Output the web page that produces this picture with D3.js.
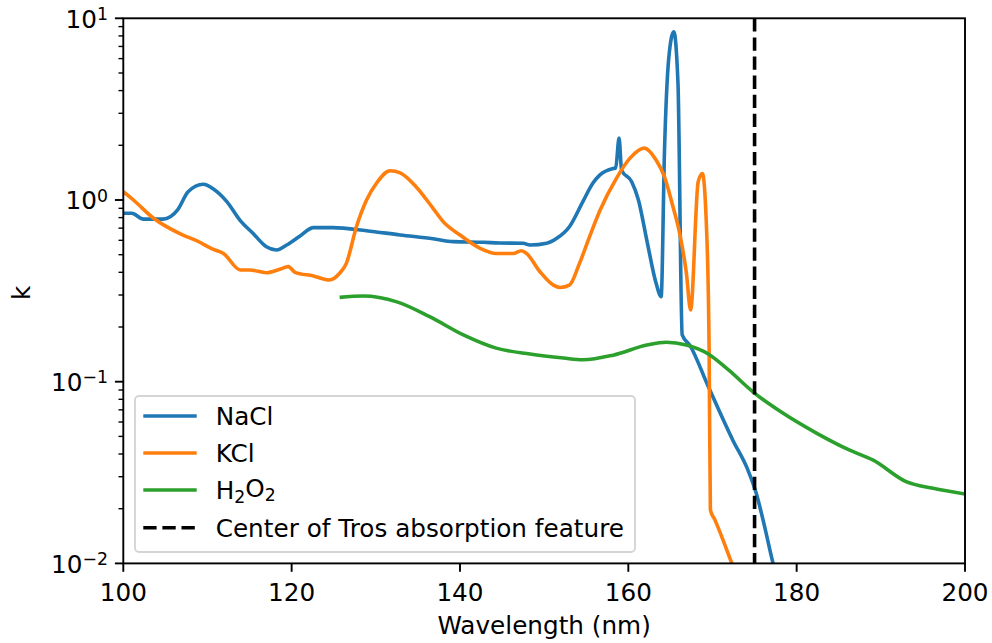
<!DOCTYPE html>
<html>
<head>
<meta charset="utf-8">
<script src="https://cdn.jsdelivr.net/npm/d3@7"></script>
<style>
  body { margin: 0; background: #fff; }
  svg text { font-family: "DejaVu Sans", sans-serif; fill: #000; }
</style>
</head>
<body>
<div id="chart"></div>
<script>
// valores
let naclWl = [100, 101, 102.4, 104.7, 106.5, 107.7, 109.5, 110.7, 112.3, 113.9, 115.4, 117.0, 118.2, 119.4, 121.0, 122.6, 124.9, 128.9, 132.9, 136.8, 139.2, 142.8, 144.7, 147.5, 148.3, 150.3, 151.5, 153.0, 154.6, 155.8, 156.6, 158.2, 158.5, 158.9, 159.2, 160.4, 161.2, 162.2, 163.3, 163.9, 164.3, 164.8, 165.4, 165.9, 166.4, 167.3, 169.5, 172.4, 174.2, 175.2, 176.2, 177.2, 178.0];
let naclK = [0.845, 0.845, 0.785, 0.785, 0.889, 1.11, 1.22, 1.15, 0.98, 0.77, 0.656, 0.553, 0.531, 0.565, 0.634, 0.705, 0.705, 0.678, 0.642, 0.612, 0.590, 0.585, 0.58, 0.578, 0.565, 0.578, 0.615, 0.713, 0.98, 1.24, 1.37, 1.49, 1.5, 2.19, 1.46, 1.26, 1.0, 0.60, 0.348, 0.294, 1.88, 6.0, 8.44, 4.39, 0.181, 0.159, 0.094, 0.0478, 0.0327, 0.0243, 0.0159, 0.0100, 0.0075];

let kclWl = [100, 101.2, 103.6, 106.9, 108.7, 110.7, 111.9, 113.9, 115.0, 117.0, 118.6, 119.6, 120.4, 122.6, 124.5, 125.7, 126.5, 127.7, 128.9, 130.1, 131.7, 132.9, 134.8, 136.8, 138.0, 140.0, 142.4, 144.3, 146.3, 147.3, 147.9, 149.5, 151.1, 151.9, 153.0, 154.2, 155.4, 156.6, 158.6, 160.2, 161.9, 163.3, 164.3, 165.3, 166.1, 166.9, 167.4, 168.3, 168.8, 169.3, 169.6, 169.75, 170.3, 172.3, 173.0];
let kclK = [1.11, 1.0, 0.793, 0.647, 0.597, 0.535, 0.508, 0.412, 0.412, 0.398, 0.416, 0.43, 0.40, 0.382, 0.363, 0.395, 0.448, 0.713, 1.0, 1.24, 1.45, 1.41, 1.18, 0.9, 0.76, 0.642, 0.542, 0.508, 0.508, 0.526, 0.508, 0.403, 0.34, 0.33, 0.34, 0.448, 0.628, 0.87, 1.32, 1.70, 1.93, 1.66, 1.34, 0.92, 0.656, 0.395, 0.248, 1.26, 1.40, 0.684, 0.149, 0.0197, 0.0173, 0.0100, 0.0082];

let h2o2Wl = [125.7, 128.5, 132.5, 136.4, 140.4, 144.3, 148.3, 152.3, 154.6, 158.2, 162.2, 164.5, 166.9, 169.5, 171.9, 174.8, 178.4, 182.4, 186.3, 189.1, 193.0, 196.2, 200];
let h2o2K = [0.291, 0.296, 0.275, 0.228, 0.181, 0.153, 0.142, 0.135, 0.132, 0.140, 0.159, 0.165, 0.159, 0.142, 0.116, 0.088, 0.067, 0.052, 0.042, 0.037, 0.0282, 0.0259, 0.0241];

let trosCenter = 175;

let xTicks = [100, 120, 140, 160, 180, 200];
let yDecades = [-2, -1, 0, 1];

let width = 992;
let height = 643;
let margin = { top: 18.3, right: 27, bottom: 79.6, left: 123.3 };
let innerW = width - margin.left - margin.right;
let innerH = height - margin.top - margin.bottom;
let fontSize = 24.7;

let svg = d3.select('#chart').append('svg')
    .attr('width', width)
    .attr('height', height);

let x = d3.scaleLinear().domain([100, 200]).range([0, innerW]);
let y = d3.scaleLog().domain([0.01, 10]).range([innerH, 0]);

let g = svg.append('g')
    .attr('transform', 'translate(' + margin.left + ',' + margin.top + ')');

g.append('clipPath').attr('id', 'clip')
    .append('rect').attr('width', innerW).attr('height', innerH);

let series = [
    { name: 'NaCl', wl: naclWl, k: naclK, color: '#1f77b4' },
    { name: 'KCl', wl: kclWl, k: kclK, color: '#ff7f0e' },
    { name: 'H2O2', wl: h2o2Wl, k: h2o2K, color: '#2ca02c' }
];

let line = d3.line()
    .x(d => x(d[0]))
    .y(d => y(d[1]))
    .curve(d3.curveMonotoneX);

let plot = g.append('g').attr('clip-path', 'url(#clip)');

series.forEach(s => {
    plot.append('path')
        .datum(s.wl.map((w, i) => [w, s.k[i]]))
        .attr('fill', 'none')
        .attr('stroke', s.color)
        .attr('stroke-width', 3.6)
        .attr('stroke-linejoin', 'round')
        .attr('d', line);
});

// linea vertical discontinua
plot.append('line')
    .attr('x1', x(trosCenter)).attr('x2', x(trosCenter))
    .attr('y1', 0).attr('y2', innerH)
    .attr('stroke', '#000')
    .attr('stroke-width', 3.6)
    .attr('stroke-dasharray', '13.3,5.8');

// ejes
let axisColor = '#000';
let tickMajor = 8.4;
let tickMinor = 4.8;

let xAxis = g.append('g').attr('transform', 'translate(0,' + innerH + ')');
xTicks.forEach(t => {
    xAxis.append('line')
        .attr('x1', x(t)).attr('x2', x(t))
        .attr('y1', 0).attr('y2', tickMajor)
        .attr('stroke', axisColor).attr('stroke-width', 1.9);
    xAxis.append('text')
        .attr('x', x(t)).attr('y', 37.5)
        .attr('text-anchor', 'middle')
        .style('font-size', fontSize + 'px')
        .text(t);
});

let yAxis = g.append('g');
yDecades.forEach(p => {
    let v = Math.pow(10, p);
    yAxis.append('line')
        .attr('x1', -tickMajor).attr('x2', 0)
        .attr('y1', y(v)).attr('y2', y(v))
        .attr('stroke', axisColor).attr('stroke-width', 1.9);
    let t = yAxis.append('text')
        .attr('x', -tickMajor - 7)
        .attr('y', y(v) + 9.5)
        .attr('text-anchor', 'end')
        .style('font-size', fontSize + 'px');
    t.append('tspan').text('10');
    t.append('tspan')
        .attr('dy', '-0.45em')
        .style('font-size', '70%')
        .text(p < 0 ? '\u2212' + (-p) : String(p));
    if (p < 1) {
        for (let m = 2; m <= 9; m++) {
            let mv = m * v;
            yAxis.append('line')
                .attr('x1', -tickMinor).attr('x2', 0)
                .attr('y1', y(mv)).attr('y2', y(mv))
                .attr('stroke', axisColor).attr('stroke-width', 1.4);
        }
    }
});

// marco
g.append('rect')
    .attr('width', innerW).attr('height', innerH)
    .attr('fill', 'none')
    .attr('stroke', axisColor)
    .attr('stroke-width', 1.9);

// etiquetas de ejes
svg.append('text')
    .attr('x', margin.left + innerW / 2)
    .attr('y', 634)
    .attr('text-anchor', 'middle')
    .style('font-size', fontSize + 'px')
    .text('Wavelength (nm)');

svg.append('text')
    .attr('transform', 'translate(30,' + (margin.top + innerH / 2 + 2) + ') rotate(-90)')
    .attr('text-anchor', 'middle')
    .style('font-size', fontSize + 'px')
    .text('k');

// leyenda
let legendItems = [
    { label: 'NaCl', color: '#1f77b4', dash: null },
    { label: 'KCl', color: '#ff7f0e', dash: null },
    { label: 'H2O2', color: '#2ca02c', dash: null },
    { label: 'Center of Tros absorption feature', color: '#000', dash: '13.3,5.8' }
];

let legend = svg.append('g').attr('transform', 'translate(135,396)');
let legendFrame = legend.append('rect')
    .attr('rx', 4).attr('ry', 4)
    .attr('fill', 'rgba(255,255,255,0.8)')
    .attr('stroke', '#d5d5d5')
    .attr('stroke-width', 1.9);

let rowY = [20, 57, 94, 131.7];
let texts = legend.append('g');
legendItems.forEach((d, i) => {
    legend.append('line')
        .attr('x1', 8.3).attr('x2', 61.7)
        .attr('y1', rowY[i]).attr('y2', rowY[i])
        .attr('stroke', d.color)
        .attr('stroke-width', 3.6)
        .attr('stroke-dasharray', d.dash);
    let t = texts.append('text')
        .attr('x', 80.7)
        .attr('y', rowY[i] + 8.9)
        .style('font-size', fontSize + 'px');
    if (d.label === 'H2O2') {
        t.append('tspan').text('H');
        t.append('tspan').attr('dy', '0.25em').style('font-size', '70%').text('2');
        t.append('tspan').attr('dy', '-0.25em').text('O');
        t.append('tspan').attr('dy', '0.25em').style('font-size', '70%').text('2');
    } else {
        t.text(d.label);
    }
});

let bb = texts.node().getBBox();
legendFrame
    .attr('width', bb.x + bb.width + 11)
    .attr('height', 156);
</script>
</body>
</html>
